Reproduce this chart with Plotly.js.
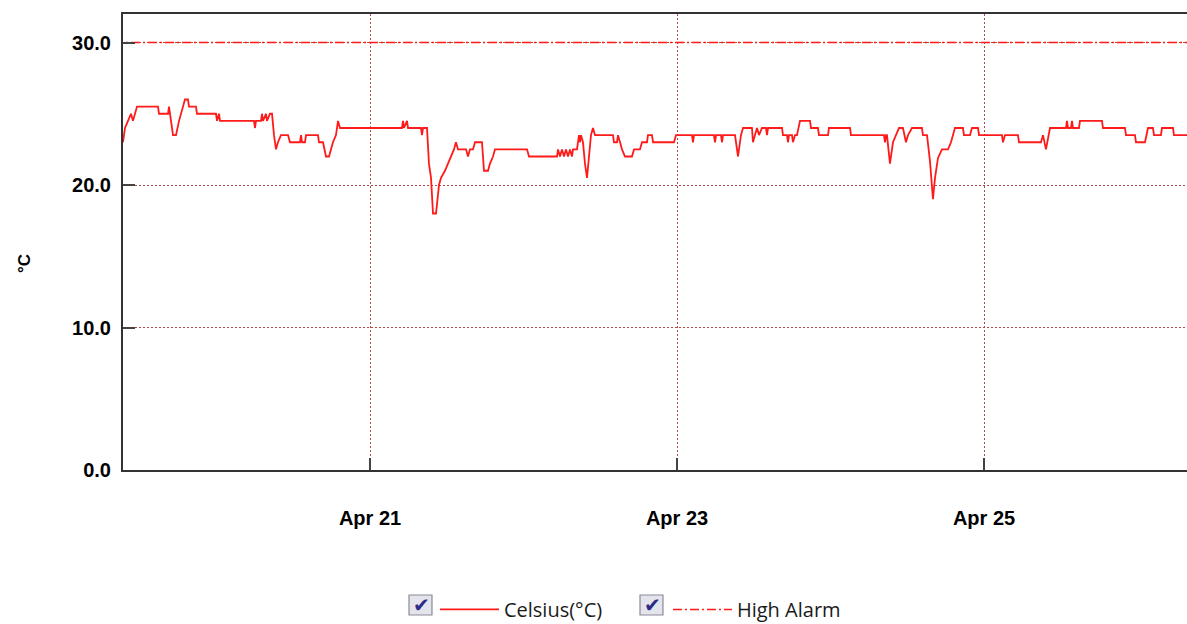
<!DOCTYPE html>
<html>
<head>
<meta charset="utf-8">
<script src="https://cdn.plot.ly/plotly-3.0.1.min.js"></script>
<style>
  html, body { margin: 0; padding: 0; background: #fff; }
  #chart { width: 1187px; height: 624px; }
</style>
</head>
<body>
<div id="chart"></div>
<script>
// Base date for time offsets (hours since Apr 19, 00:00)
const baseDate = Date.UTC(2024, 3, 19);

// Celsius series: hours since base, temperature in °C
const celsiusHours = [
  9.38, 9.69, 10.16, 10.63, 10.94, 11.26, 11.57, 14.85, 15.01, 16.42, 16.57, 16.73, 17.04, 17.20, 17.67,
  18.14, 18.76, 19.07, 19.54, 19.70, 20.79, 20.95, 23.92, 24.08, 24.39, 24.55, 29.86, 30.02, 30.17, 30.96,
  31.11, 31.27, 31.74, 31.89, 32.36, 32.68, 32.99, 33.30, 33.61, 34.08, 35.18, 35.49, 37.05, 37.21, 37.37,
  37.84, 37.99, 39.87, 40.02, 40.65, 41.12, 41.59, 42.21, 42.68, 43.00, 43.31, 53.00, 53.16, 53.31, 53.78,
  53.94, 55.97, 56.13, 56.29, 56.91, 57.22, 57.54, 57.85, 58.32, 58.79, 59.10, 59.72, 60.19, 60.66, 61.13,
  61.44, 61.76, 63.01, 63.32, 63.63, 64.10, 64.42, 65.51, 65.82, 66.45, 66.76, 67.23, 67.54, 72.55, 72.86,
  77.24, 77.39, 77.71, 78.02, 78.33, 78.64, 78.96, 79.27, 79.58, 79.74, 80.36, 80.68, 80.83, 80.99, 81.30,
  81.61, 81.93, 82.24, 82.55, 82.86, 83.18, 85.99, 86.15, 86.62, 86.77, 87.09, 87.40, 87.87, 88.96, 89.28,
  90.21, 90.53, 91.31, 91.46, 92.09, 92.25, 95.53, 95.84, 98.34, 98.50, 98.66, 101.78, 101.94, 102.10, 102.88,
  103.03, 103.19, 105.07, 105.54, 106.00, 106.32, 107.72, 107.88, 108.19, 108.51, 108.82, 109.29, 109.91, 110.07, 110.23,
  112.42, 112.57, 113.20, 113.35, 113.51, 113.98, 114.13, 114.45, 114.76, 115.23, 116.79, 116.95, 118.04, 118.20, 119.61,
  119.76, 123.05, 123.20, 128.36, 128.52, 128.68, 128.83, 129.30, 129.77, 130.24, 130.71, 131.33, 131.80, 132.12, 132.74,
  134.30, 134.46, 135.09, 135.55, 136.02, 136.34, 136.81, 137.43, 138.37, 138.84, 139.46, 140.71, 140.87, 141.81, 142.12,
  143.06, 143.22, 146.81, 146.97, 147.28, 149.31, 149.47, 152.91, 153.22, 153.69, 154.32, 156.82, 156.97, 157.13, 157.60,
  157.76, 157.91, 158.85, 159.01, 162.45, 162.60, 166.04, 166.20, 167.61, 167.76, 169.17, 169.64, 170.42, 170.58, 171.67,
  171.83, 173.55, 173.70, 175.74
];
const celsiusValues = [
  23.0, 24.0, 24.5, 25.0, 24.5, 25.0, 25.5, 25.5, 25.0, 25.0, 25.5, 25.0, 24.0, 23.5, 23.5,
  24.5, 25.5, 26.0, 26.0, 25.5, 25.5, 25.0, 25.0, 24.5, 25.0, 24.5, 24.5, 24.0, 24.5, 24.5,
  25.0, 24.5, 25.0, 24.5, 25.0, 25.0, 23.5, 22.5, 23.0, 23.5, 23.5, 23.0, 23.0, 23.5, 23.0,
  23.0, 23.5, 23.5, 23.0, 23.0, 22.0, 22.0, 23.0, 23.5, 24.5, 24.0, 24.0, 24.5, 24.0, 24.5,
  24.0, 24.0, 23.5, 24.0, 24.0, 21.5, 20.5, 18.0, 18.0, 20.0, 20.5, 21.0, 21.5, 22.0, 22.5,
  23.0, 22.5, 22.5, 22.0, 22.5, 22.5, 23.0, 23.0, 21.0, 21.0, 21.5, 22.0, 22.5, 22.5, 22.0,
  22.0, 22.5, 22.0, 22.5, 22.0, 22.5, 22.0, 22.5, 22.0, 22.5, 22.5, 23.5, 23.0, 23.5, 23.0,
  21.5, 20.5, 22.0, 23.5, 24.0, 23.5, 23.5, 23.0, 23.0, 23.5, 23.0, 22.5, 22.0, 22.0, 22.5,
  22.5, 23.0, 23.0, 23.5, 23.5, 23.0, 23.0, 23.5, 23.5, 23.0, 23.5, 23.5, 23.0, 23.5, 23.5,
  23.0, 23.5, 23.5, 22.0, 23.5, 24.0, 24.0, 23.0, 23.5, 24.0, 23.5, 24.0, 24.0, 23.5, 24.0,
  24.0, 23.5, 23.5, 23.0, 23.5, 23.5, 23.0, 23.5, 23.5, 24.5, 24.5, 24.0, 24.0, 23.5, 23.5,
  24.0, 24.0, 23.5, 23.5, 23.0, 23.5, 23.5, 21.5, 23.0, 23.5, 24.0, 24.0, 23.0, 23.5, 24.0,
  24.0, 23.5, 23.5, 21.7, 19.0, 20.5, 21.9, 22.5, 22.5, 23.0, 24.0, 24.0, 23.5, 23.5, 24.0,
  24.0, 23.5, 23.5, 23.0, 23.5, 23.5, 23.0, 23.0, 23.5, 22.5, 24.0, 24.0, 24.5, 24.0, 24.0,
  24.5, 24.0, 24.0, 24.5, 24.5, 24.0, 24.0, 23.5, 23.5, 23.0, 23.0, 24.0, 24.0, 23.5, 23.5,
  24.0, 24.0, 23.5, 23.5
];

// High alarm threshold
const alarmHours = [0, 200];
const alarmValues = [30.0, 30.0];

// Axis extent and ticks
const xRangeHours = [9.38, 175.74];
const firstTickHours = 48;           // Apr 21
const tickStepHours = 48;            // every 2 days
const yRange = [0, 32];
const yTickValues = [0, 10, 20, 30];

// Texts
const seriesNames = ['Celsius(°C)', 'High Alarm'];
const yAxisLabel = '°C';

const toDate = h => baseDate + h * 3600000;

const traces = [
  {
    type: 'scatter', mode: 'lines', name: seriesNames[0],
    x: celsiusHours.map(toDate), y: celsiusValues,
    line: { color: '#ff1a1a', width: 1.8 },
    hoverinfo: 'x+y'
  },
  {
    type: 'scatter', mode: 'lines', name: seriesNames[1],
    x: alarmHours.map(toDate), y: alarmValues,
    line: { color: '#ff1a1a', width: 1.6, dash: '9px,3px,2px,3px' },
    hoverinfo: 'y'
  }
];

const tickFont = { family: 'Liberation Sans, Arial, sans-serif', size: 20, color: '#000', weight: 'bold' };
const gridColor = '#b04848';

// Checkbox decorations beside the legend entries (paper coords)
const boxes = [[0.2688, 0.2904], [0.4859, 0.5075]];
const shapes = boxes.map(b => ({
  type: 'rect', xref: 'paper', yref: 'paper',
  x0: b[0], x1: b[1], y0: -0.3180, y1: -0.2741,
  fillcolor: '#e4e4ec', line: { color: '#8a8a96', width: 1.2 }
}));
const annotations = boxes.map(b => ({
  xref: 'paper', yref: 'paper', x: (b[0] + b[1]) / 2 + 0.0005, y: -0.2950,
  xanchor: 'center', yanchor: 'middle', showarrow: false,
  text: '✔', font: { family: 'DejaVu Sans', size: 20, color: '#2c2c86' }
}));
// Y-axis label (placed as in the reference, slightly below the axis middle)
annotations.push({
  xref: 'paper', yref: 'paper', x: -0.0921, y: 0.4518,
  xanchor: 'center', yanchor: 'middle', showarrow: false, textangle: -90,
  text: yAxisLabel,
  font: { family: 'Liberation Sans, Arial, sans-serif', size: 17, color: '#000', weight: 'bold' }
});

const layout = {
  width: 1187, height: 624,
  margin: { l: 123, r: 0, t: 14, b: 154, pad: 0, autoexpand: false },
  paper_bgcolor: '#ffffff', plot_bgcolor: '#ffffff',
  showlegend: true,
  legend: {
    orientation: 'h', x: 0.2932, xanchor: 'left', y: -0.263, yanchor: 'top',
    font: { family: 'Open Sans, Noto Sans, sans-serif', size: 20, color: '#1a1a1a' },
    itemwidth: 59, entrywidth: 159, traceorder: 'normal', bgcolor: 'rgba(0,0,0,0)'
  },
  xaxis: {
    type: 'date', range: xRangeHours.map(toDate),
    tick0: toDate(firstTickHours), dtick: tickStepHours * 3600000,
    tickformat: '%b %d',
    showgrid: true, gridcolor: gridColor, gridwidth: 1, griddash: '2px,2px',
    showline: true, linecolor: '#333', linewidth: 2, mirror: true,
    ticks: 'inside', ticklen: 12, tickwidth: 2, tickcolor: '#444',
    tickfont: tickFont, ticklabelstandoff: 29, automargin: false,
    zeroline: false, fixedrange: true
  },
  yaxis: {
    range: yRange, tickvals: yTickValues, tickformat: '.1f',
    showgrid: true, gridcolor: gridColor, gridwidth: 1, griddash: '2px,2px',
    showline: true, linecolor: '#333', linewidth: 2,
    ticks: 'inside', ticklen: 12, tickwidth: 2, tickcolor: '#444',
    tickfont: tickFont, ticklabelstandoff: 6, automargin: false,
    zeroline: false, fixedrange: true
  },
  shapes: shapes,
  annotations: annotations
};

Plotly.newPlot('chart', traces, layout, { displayModeBar: false, staticPlot: false, responsive: false });
</script>
</body>
</html>
